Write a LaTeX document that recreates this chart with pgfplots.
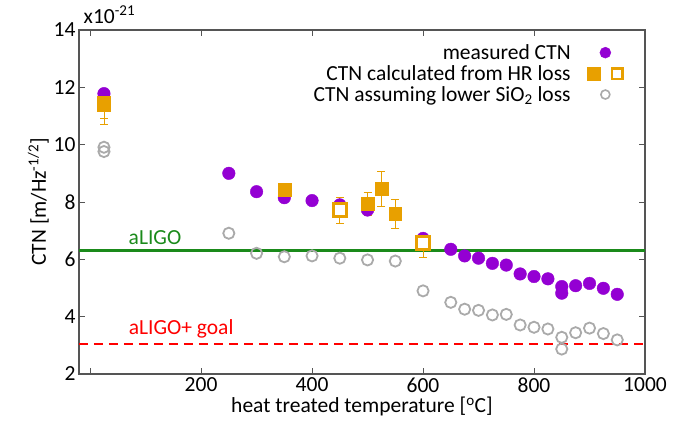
\documentclass[border=0pt]{standalone}
\usepackage{fontspec}
\setmainfont{Carlito}
\usepackage{pgfplots}
\pgfplotsset{compat=1.18}
\definecolor{ctnpurple}{HTML}{9400D3}
\definecolor{hrorange}{HTML}{E8A000}
\definecolor{sigrey}{HTML}{AAAAAA}
\definecolor{ligogreen}{HTML}{1A8A1A}
\definecolor{axgrey}{HTML}{555555}
\newcommand{\bigfont}{\fontsize{21.5}{24}\selectfont}

\begin{document}
\begin{tikzpicture}
\useasboundingbox (-79pt,-57pt) rectangle (599pt,374pt);
\begin{axis}[
    scale only axis,
    width=566pt, height=344pt,
    xmin=-20, xmax=1000, ymin=2, ymax=14,
    xtick={0,200,...,1000},
    xticklabels={,200,400,600,800,1000},
    ytick={2,4,...,14},
    tick align=inside,
    major tick length=6pt,
    tick style={axgrey, line width=0.8pt},
    axis line style={axgrey, line width=1.2pt},
    /pgf/number format/assume math mode=true,
    ticklabel style={font=\bigfont},
    label style={font=\bigfont},
    xlabel={heat treated temperature [\textsuperscript{o}C]},
    ylabel={CTN [m/Hz\textsuperscript{-1/2}]},
    xlabel style={yshift=2pt},
    ylabel style={yshift=-2pt},
    legend plot pos=right,
    legend cell align=right,
    legend style={at={(rel axis cs:0.966,0.96)}, anchor=north east,
        draw=none, fill=none, font=\bigfont, inner sep=0pt,
        nodes={inner sep=0.5pt}, row sep=3.5pt},
    clip=false,
]

% legend entries
\addlegendimage{legend image code/.code={
    \path (-22pt,0pt) (32pt,0pt);
    \fill[ctnpurple] (12pt,0pt) circle (5.5pt);}}
\addlegendentry{measured CTN}
\addlegendimage{legend image code/.code={
    \path (-22pt,0pt) (32pt,0pt);
    \fill[hrorange] (-6.5pt,-6.5pt) rectangle (6.5pt,6.5pt);
    \draw[hrorange, line width=2.5pt, fill=white] (18.7pt,-5.3pt) rectangle (29.3pt,5.3pt);}}
\addlegendentry{CTN calculated from HR loss}
\addlegendimage{legend image code/.code={
    \path (-22pt,0pt) (32pt,0pt);
    \draw[sigrey, line width=1.6pt] (12pt,0pt) circle (4.5pt);}}
\addlegendentry{CTN assuming lower SiO\textsubscript{2} loss}

% reference levels
\addplot[ligogreen, line width=2.6pt, forget plot] coordinates {(-20,6.3) (1000,6.3)};
\addplot[red, line width=2.6pt, dash pattern=on 9pt off 6pt, forget plot] coordinates {(-20,3.05) (1000,3.05)};
\node[ligogreen, font=\bigfont] at (axis cs:117,6.76) {aLIGO};
\node[red, font=\bigfont] at (axis cs:164,3.58) {aLIGO+ goal};

% CTN assuming lower SiO2 loss
\addplot[only marks, mark=o, mark size=5.6pt, sigrey, mark options={line width=1.8pt}, forget plot]
coordinates {
(25,9.91) (25,9.76) (250,6.91) (300,6.21) (350,6.09) (400,6.12) (450,6.04)
(500,5.98) (550,5.94) (600,4.90) (650,4.50) (675,4.26) (700,4.22) (725,4.06)
(750,4.08) (775,3.71) (800,3.63) (825,3.57) (850,3.28) (850,2.87) (875,3.44)
(900,3.60) (925,3.41) (950,3.19)
};

% measured CTN
\addplot[only marks, mark=*, mark size=6.3pt, ctnpurple, forget plot]
coordinates {
(25,11.78) (250,9.00) (300,8.36) (350,8.15) (400,8.05) (450,7.90) (500,7.72)
(600,6.73) (650,6.35) (675,6.12) (700,6.04) (725,5.86) (750,5.80) (775,5.49)
(800,5.40) (825,5.32) (850,5.05) (850,4.82) (875,5.08) (900,5.16) (925,4.99)
(950,4.78)
};

% CTN calculated from HR loss, filled
\addplot[only marks, mark=square*, mark size=6.4pt, hrorange, forget plot,
    error bars/.cd, y dir=both, y explicit,
    error bar style={hrorange, line width=0.9pt},
    error mark options={rotate=90, hrorange, mark size=4pt, line width=0.9pt}]
coordinates {
(25,11.45) += (0,0.43) -= (0,0.73)
(25,11.40) += (0,0.30) -= (0,0.50)
(350,8.44) += (0,0) -= (0,0)
(500,7.93) += (0,0.41) -= (0,0.41)
(525,8.45) += (0,0.60) -= (0,0.61)
(550,7.60) += (0,0.49) -= (0,0.52)
};

% CTN calculated from HR loss, open
\addplot[only marks, mark=square*, mark size=6.6pt, hrorange, forget plot,
    mark options={fill=white, line width=2.8pt},
    error bars/.cd, y dir=both, y explicit,
    error bar style={hrorange, line width=0.9pt},
    error mark options={rotate=90, hrorange, mark size=4pt, line width=0.9pt}]
coordinates {
(450,7.72) += (0,0.43) -= (0,0.46)
(600,6.58) += (0,0.14) -= (0,0.52)
};

\node[anchor=south west, font=\bigfont, inner sep=0pt]
    at (rel axis cs:0.008,1.018) {x10\textsuperscript{-21}};
\end{axis}
\end{tikzpicture}
\end{document}
